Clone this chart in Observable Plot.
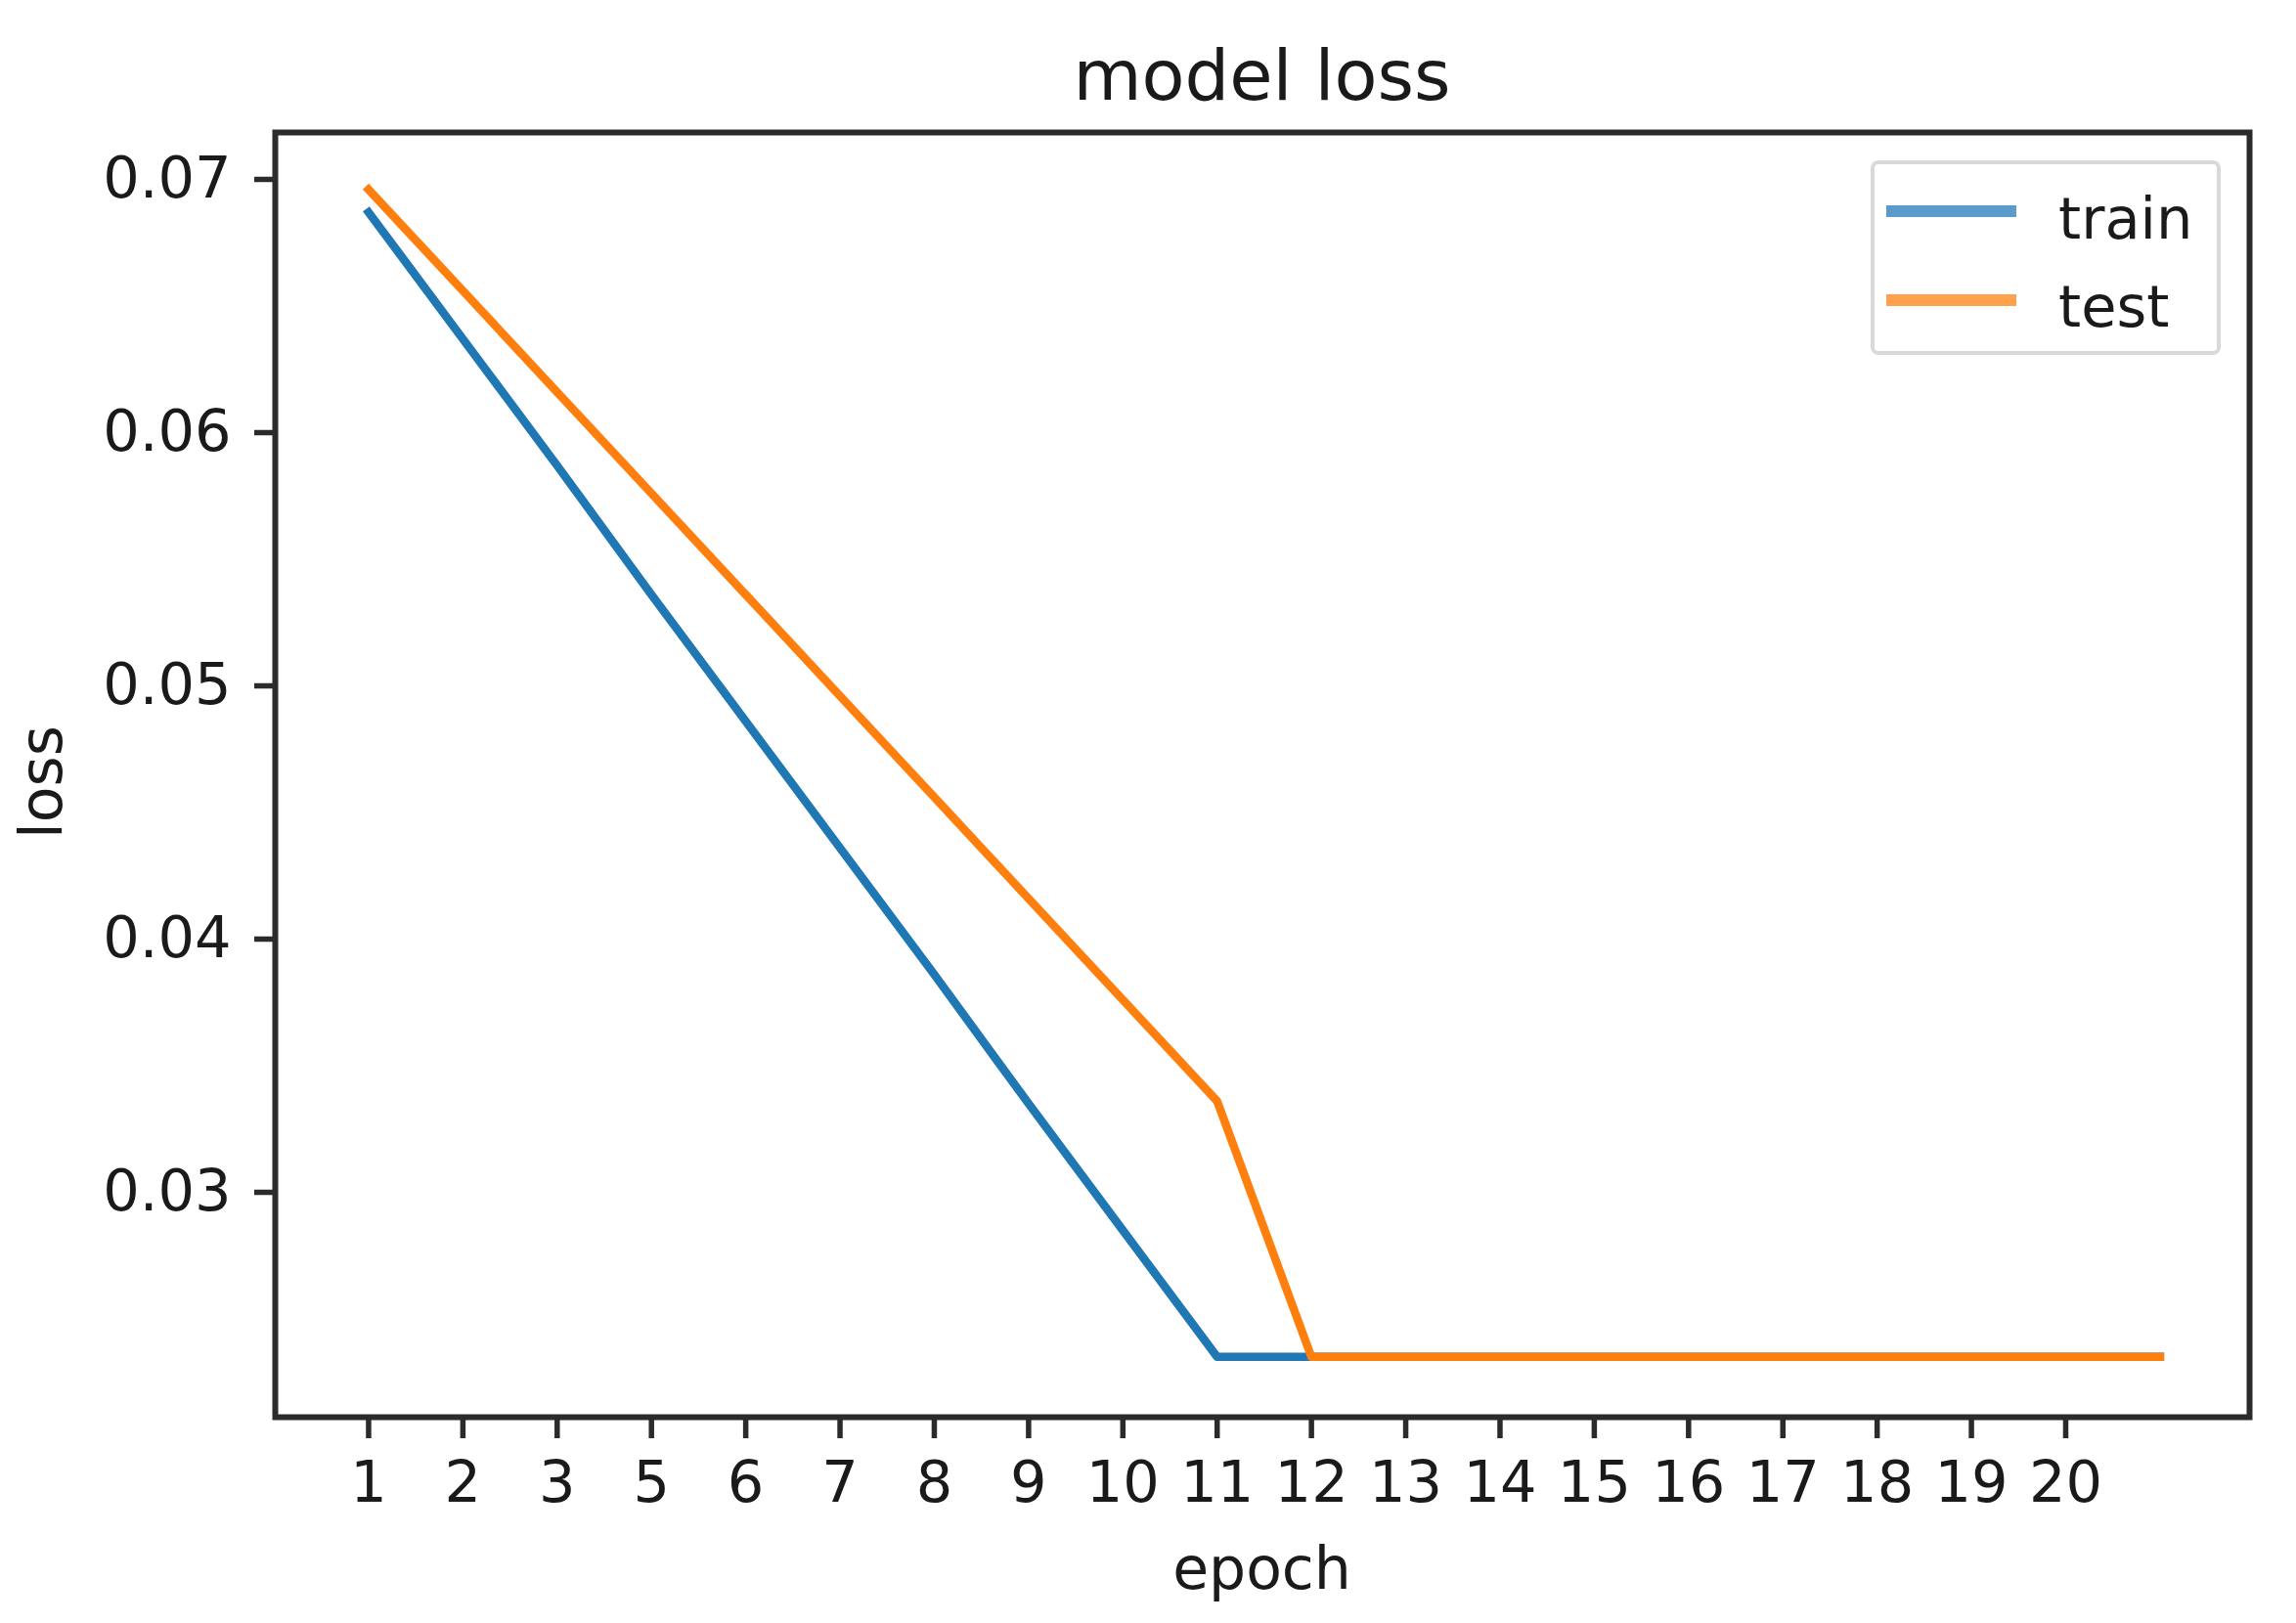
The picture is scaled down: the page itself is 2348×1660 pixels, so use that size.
<!DOCTYPE html>
<html>
<head>
<meta charset="utf-8">
<script src="https://cdn.jsdelivr.net/npm/d3@7"></script>
<script src="https://cdn.jsdelivr.net/npm/@observablehq/plot@0.6"></script>
<style>
  html, body { margin: 0; padding: 0; background: #fff; }
  #wrap { position: relative; width: 2348px; height: 1660px; font-family: "DejaVu Sans", sans-serif; color: #1a1a1a; }
  #chart { position: absolute; left: 0; top: 0; }
  .t { position: absolute; white-space: nowrap; line-height: 1; }
  #title { left: 281px; width: 2019px; top: 41px; font-size: 72px; text-align: center; }
  #xlabel { left: 281px; width: 2019px; top: 1574px; font-size: 60px; text-align: center; }
  #ylabel { left: 42px; top: 800px; font-size: 60px; transform: translate(-50%, -50%) rotate(-90deg); }
  #legend { position: absolute; left: 1913px; top: 164px; width: 350px; height: 191px; border: 4px solid #d9d9d9; border-radius: 8px; background: #fff; box-sizing: content-box; }
  .sw { position: absolute; left: 12px; width: 133px; height: 12px; }
  .lt { position: absolute; left: 188px; font-size: 59px; line-height: 1; }
</style>
</head>
<body>
<div id="wrap">
  <div id="chart"></div>
  <div class="t" id="title">model loss</div>
  <div class="t" id="xlabel">epoch</div>
  <div class="t" id="ylabel">loss</div>
  <div id="legend"></div>
</div>
<script>
// Tick labels shown under positions 0..18 (as in the reference: "4" is missing)
const tickLabels = ["1","2","3","5","6","7","8","9","10","11","12","13","14","15","16","17","18","19","20"];
const seriesNames = ["train", "test"];
const seriesColors = ["#1f77b4", "#ff7f0e"];
const legendColors = ["#5a9bcb", "#ffa04c"];
const yTicks = [0.03, 0.04, 0.05, 0.06, 0.07];
// Loss values for 20 epochs (positions 0..19)
const trainLoss = [0.0687, 0.0637, 0.0587, 0.0536, 0.0486, 0.0436, 0.0386, 0.0335, 0.0285, 0.0235,
                   0.0235, 0.0235, 0.0235, 0.0235, 0.0235, 0.0235, 0.0235, 0.0235, 0.0235, 0.0235];
const testLoss  = [0.0696, 0.0656, 0.0616, 0.0576, 0.0536, 0.0496, 0.0456, 0.0416, 0.0376, 0.0336,
                   0.0235, 0.0235, 0.0235, 0.0235, 0.0235, 0.0235, 0.0235, 0.0235, 0.0235, 0.0235];

const rows = (arr, name) => arr.map((v, i) => ({epoch: i, loss: v, series: name}));
const train = rows(trainLoss, "train");
const test = rows(testLoss, "test");
const tickPos = tickLabels.map((_, i) => i);
const axisColor = "#2b2b2b";

const chart = Plot.plot({
  width: 2348,
  height: 1660,
  marginLeft: 281,
  marginRight: 48,
  marginTop: 135,
  marginBottom: 211,
  style: {fontFamily: "DejaVu Sans, sans-serif", background: "transparent", color: "#1a1a1a"},
  x: {domain: [-0.99, 19.95]},
  y: {domain: [0.02112, 0.071853]},
  marks: [
    Plot.line(train, {x: "epoch", y: "loss", stroke: seriesColors[0], strokeWidth: 8.5, strokeLinecap: "square", strokeLinejoin: "round"}),
    Plot.line(test, {x: "epoch", y: "loss", stroke: seriesColors[1], strokeWidth: 8.5, strokeLinecap: "square", strokeLinejoin: "round"}),
    Plot.frame({stroke: axisColor, strokeWidth: 6}),
    Plot.axisX({
      ticks: tickPos,
      tickFormat: i => tickLabels[i],
      tickSize: 22, tickPadding: 23, strokeWidth: 5.5, stroke: axisColor,
      fontSize: 59, fill: "#1a1a1a", label: null
    }),
    Plot.axisY({
      ticks: yTicks,
      tickFormat: d3.format(".2f"),
      tickSize: 21, tickPadding: 24, strokeWidth: 5.5, stroke: axisColor,
      fontSize: 59, fill: "#1a1a1a", label: null
    })
  ]
});
document.getElementById("chart").appendChild(chart);

// Legend
const legend = document.getElementById("legend");
const swY = [48, 139];
const txtTop = [26, 116];
seriesNames.forEach((name, k) => {
  const sw = document.createElement("div");
  sw.className = "sw";
  sw.style.top = (swY[k] - 6) + "px";
  sw.style.background = legendColors[k];
  legend.appendChild(sw);
  const tx = document.createElement("div");
  tx.className = "lt";
  tx.style.top = txtTop[k] + "px";
  tx.textContent = name;
  legend.appendChild(tx);
});
</script>
</body>
</html>
